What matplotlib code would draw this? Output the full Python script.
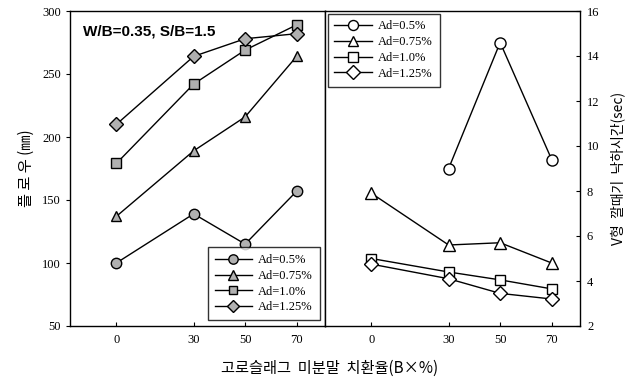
import matplotlib
matplotlib.use("Agg")
import matplotlib.pyplot as plt

x = [0, 30, 50, 70]
labels = ["Ad=0.5%", "Ad=0.75%", "Ad=1.0%", "Ad=1.25%"]
markers = ["o", "^", "s", "D"]

flow = [
    [100, 139, 115, 157],
    [137, 189, 216, 264],
    [179, 242, 269, 289],
    [210, 264, 278, 282],
]

vtime_x = [[30, 50, 70], [0, 30, 50, 70], [0, 30, 50, 70], [0, 30, 50, 70]]
vtime = [
    [9.0, 14.6, 9.4],
    [7.9, 5.6, 5.7, 4.8],
    [5.0, 4.4, 4.05, 3.65],
    [4.75, 4.1, 3.45, 3.2],
]

serif = "Liberation Serif"
kr = ["Noto Sans CJK KR", "DejaVu Sans"]

fig = plt.figure(figsize=(6.4, 3.83), dpi=100)
ax1 = fig.add_axes([70/640, 1-326/383, 255/640, 315/383])
ax2 = fig.add_axes([325/640, 1-326/383, 255/640, 315/383])

msz = [7.5, 7.5, 7, 7]
for i in range(4):
    ax1.plot(x, flow[i], marker=markers[i], color="black", lw=1.0,
             markerfacecolor="#b0b0b0", markeredgecolor="black",
             markersize=msz[i], markeredgewidth=1.0, label=labels[i])
    ax2.plot(vtime_x[i], vtime[i], marker=markers[i], color="black", lw=1.0,
             markerfacecolor="white", markeredgecolor="black",
             markersize=msz[i] + 0.5, markeredgewidth=1.0, label=labels[i])

for ax in (ax1, ax2):
    ax.set_xlim(-18, 81)
    ax.set_xticks(x)
    ax.set_xticklabels([str(v) for v in x], fontfamily=serif, fontsize=9)
    ax.tick_params(axis="x", direction="in", length=3, pad=6)
    for s in ax.spines.values():
        s.set_linewidth(1.0)

ax1.set_ylim(50, 300)
ax1.set_yticks([50, 100, 150, 200, 250, 300])
ax1.set_yticklabels(["50", "100", "150", "200", "250", "300"], fontfamily=serif, fontsize=9)
ax1.tick_params(axis="y", direction="out", length=3)
ax1.set_ylabel("플 로 우 (㎜)", fontfamily=kr, fontsize=11, labelpad=5)

ax2.set_ylim(2, 16)
ax2.yaxis.tick_right()
ax2.yaxis.set_label_position("right")
ax2.set_yticks([2, 4, 6, 8, 10, 12, 14, 16])
ax2.set_yticklabels([str(v) for v in [2, 4, 6, 8, 10, 12, 14, 16]], fontfamily=serif, fontsize=9)
ax2.tick_params(axis="y", direction="in", length=3, pad=5)
ax2.set_ylabel("V형  깔때기  낙하시간(sec)", fontfamily=kr, fontsize=10, labelpad=8)

ax1.text(0.05, 0.935, "W/B=0.35, S/B=1.5", transform=ax1.transAxes,
         fontfamily="Liberation Sans", fontweight="bold", fontsize=11, va="center")

legkw = dict(prop={"family": serif, "size": 9}, frameon=True, fancybox=False,
             edgecolor="black", handlelength=3.0, labelspacing=0.3,
             borderpad=0.55, handletextpad=0.5, borderaxespad=0.2, markerscale=0.9)
l1 = ax1.legend(loc="lower right", bbox_to_anchor=(0.99, 0.01), **legkw)
l1.get_frame().set_linewidth(1.0)
l2 = ax2.legend(loc="upper left", bbox_to_anchor=(0.0, 1.0), **legkw)
l2.get_frame().set_linewidth(1.0)

fig.text(330/640, 1-368/383, "고로슬래그  미분말  치환율(B×%)", fontfamily=kr,
         fontsize=11, ha="center", va="center")

fig.savefig("out.png", dpi=100)
